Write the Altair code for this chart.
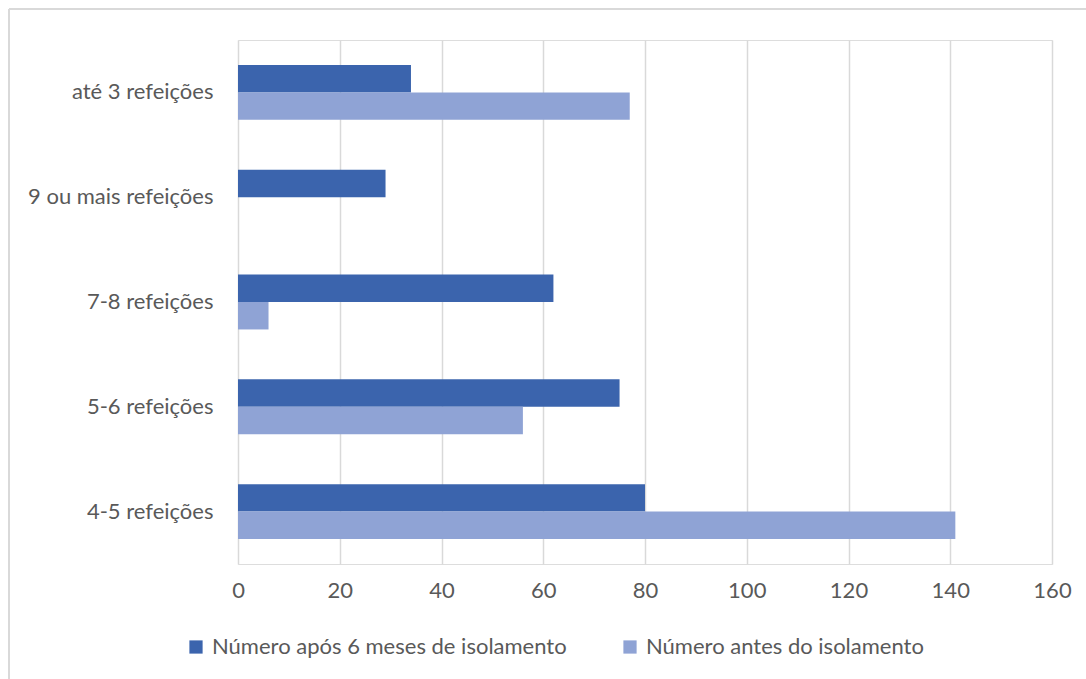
import altair as alt
import pandas as pd

# Meals per day, before isolation and after six months of isolation
categories = [
    "até 3 refeições",
    "9 ou mais refeições",
    "7-8 refeições",
    "5-6 refeições",
    "4-5 refeições",
]
after_6_months = [34, 29, 62, 75, 80]
before_isolation = [77, 0, 6, 56, 141]

series_names = ["Número após 6 meses de isolamento", "Número antes do isolamento"]
series_colors = ["#3B64AD", "#8FA3D5"]

rows = []
for cat, a, b in zip(categories, after_6_months, before_isolation):
    rows.append({"categoria": cat, "serie": series_names[0], "valor": a})
    rows.append({"categoria": cat, "serie": series_names[1], "valor": b})
df = pd.DataFrame(rows)

FONT = "Lato"
GREY = "#595959"
FS = 22

bars = alt.Chart(df).mark_bar(strokeWidth=0).encode(
    y=alt.Y(
        "categoria:N",
        sort=categories,
        title=None,
        scale=alt.Scale(paddingInner=0.476, paddingOuter=0.238),
        axis=alt.Axis(
            domain=False, ticks=False, grid=False,
            labelFontSize=FS, labelColor=GREY, labelFont=FONT,
            labelPadding=25, labelLimit=0,
        ),
    ),
    yOffset=alt.YOffset(
        "serie:N", sort=series_names,
        scale=alt.Scale(paddingInner=0, paddingOuter=0),
    ),
    x=alt.X(
        "valor:Q",
        title=None,
        scale=alt.Scale(domain=[0, 160], nice=False),
        axis=alt.Axis(
            values=[0, 20, 40, 60, 80, 100, 120, 140, 160],
            domain=False, ticks=False,
            grid=True, gridColor="#D9D9D9", gridWidth=1.5,
            labelFontSize=FS, labelColor=GREY, labelFont=FONT,
            labelPadding=16, labelFlush=False,
        ),
    ),
    color=alt.Color(
        "serie:N",
        sort=series_names,
        scale=alt.Scale(domain=series_names, range=series_colors),
        legend=alt.Legend(
            title=None,
            orient="none",
            direction="horizontal",
            legendX=-53,
            legendY=596,
            symbolType="square",
            symbolSize=175,
            symbolStrokeWidth=0,
            labelFontSize=FS,
            labelColor=GREY,
            labelFont=FONT,
            labelOffset=5,
            labelLimit=0,
            columnPadding=52,
        ),
    ),
)

# Light frame around the figure (top and left edges)
frame_top = alt.Chart(df).mark_rule(color="#D9D9D9", strokeWidth=1.5).encode(
    x=alt.value(-229), x2=alt.value(900), y=alt.value(-31)
)
frame_left = alt.Chart(df).mark_rule(color="#D9D9D9", strokeWidth=1.5).encode(
    x=alt.value(-229), y=alt.value(-31), y2=alt.value(700)
)

chart = (
    alt.layer(frame_top, frame_left, bars)
    .properties(
        width=814,
        height=524,
        autosize=alt.AutoSizeParams(type="none"),
        padding={"left": 238, "top": 40, "right": 34, "bottom": 115},
    )
    .configure_view(stroke=None)
    .configure(background="white")
)

chart.save("out.html", embed_options={"renderer": "svg", "actions": False})
